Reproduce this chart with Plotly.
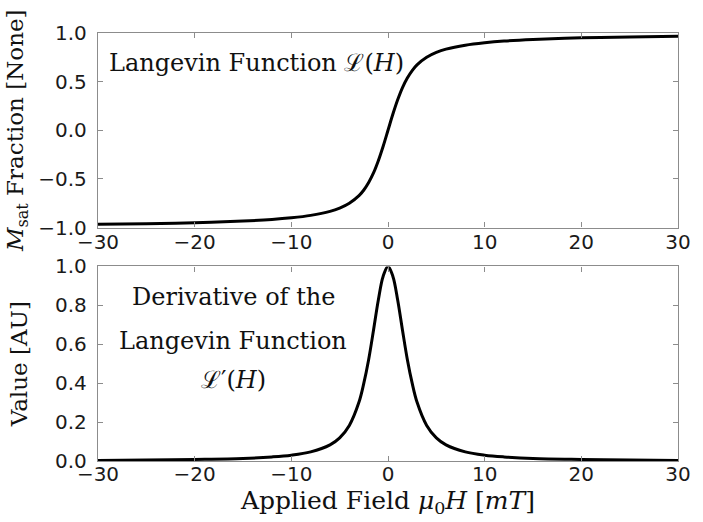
import plotly.graph_objects as go

# Applied field mu0*H [mT]
field = [-30, -25, -20, -15, -12, -10, -8, -6, -5, -4, -3, -2.5, -2, -1.5, -1, -0.5,
         0, 0.5, 1, 1.5, 2, 2.5, 3, 4, 5, 6, 8, 10, 12, 15, 20, 25, 30]

# Langevin function L(H) (saturation fraction)
langevin = [-0.967, -0.960, -0.950, -0.933, -0.917, -0.900, -0.875, -0.834, -0.800,
            -0.750, -0.672, -0.614, -0.537, -0.439, -0.313, -0.164,
            0.0, 0.164, 0.313, 0.439, 0.537, 0.614, 0.672, 0.750, 0.800, 0.834,
            0.875, 0.900, 0.917, 0.933, 0.950, 0.960, 0.967]

# Normalised derivative L'(H)
derivative = [0.003, 0.005, 0.008, 0.013, 0.021, 0.030, 0.047, 0.083, 0.119, 0.183,
              0.303, 0.400, 0.522, 0.672, 0.828, 0.950,
              1.0, 0.950, 0.828, 0.672, 0.522, 0.400, 0.303, 0.183, 0.119, 0.083,
              0.047, 0.030, 0.021, 0.013, 0.008, 0.005, 0.003]

x_ticks = [-30, -20, -10, 0, 10, 20, 30]
top_y_ticks = [-1.0, -0.5, 0.0, 0.5, 1.0]
bottom_y_ticks = [0.0, 0.2, 0.4, 0.6, 0.8, 1.0]

TICKFONT = dict(family="DejaVu Sans", size=20, color="#1a1a1a")
SERIF = "DejaVu Serif"
AXCOL = "#8c8c8c"

W, H = 703, 522
L, T, R, B = 98, 33, 13, 60

fig = go.Figure()
fig.add_trace(go.Scatter(x=field, y=langevin, mode="lines", line=dict(color="black", width=3, shape="spline", smoothing=1.0),
                         xaxis="x", yaxis="y", showlegend=False))
fig.add_trace(go.Scatter(x=field, y=derivative, mode="lines", line=dict(color="black", width=3, shape="spline", smoothing=1.0),
                         xaxis="x2", yaxis="y2", showlegend=False))

common = dict(showline=True, linecolor=AXCOL, linewidth=1.3, mirror="ticks", ticks="inside",
              ticklen=5, tickcolor=AXCOL, showgrid=False, zeroline=False, tickfont=TICKFONT,
              ticklabeloverflow="allow")

top_dom = [234 / 429, 1.0]
bot_dom = [0.0, 195 / 429]
ytitle_font = dict(family=SERIF, size=23, color="#111")
xtitle_font = dict(family=SERIF, size=25, color="#111")

fig.update_layout(
    width=W, height=H,
    margin=dict(l=L, r=R, t=T, b=B),
    paper_bgcolor="white", plot_bgcolor="white",
    xaxis=dict(domain=[0, 1], anchor="y", range=[-30, 30], tickvals=x_ticks, ticklabelstandoff=-4,
               ticktext=[str(v).replace("-", "\u2212") for v in x_ticks], **common),
    yaxis=dict(domain=top_dom, anchor="x", range=[-1.0, 1.0], tickvals=top_y_ticks, ticklabelstandoff=6,
               ticktext=[f"{v:.1f}".replace("-", "\u2212") for v in top_y_ticks],
               title=dict(text="<i>M</i><sub>sat</sub> Fraction [None]", font=ytitle_font, standoff=8),
               **common),
    xaxis2=dict(domain=[0, 1], anchor="y2", range=[-30, 30], tickvals=x_ticks, ticklabelstandoff=-5,
                ticktext=[str(v).replace("-", "\u2212") for v in x_ticks],
                title=dict(text="Applied Field <i>μ</i><sub>0</sub><i>H</i> [<i>mT</i>]", font=xtitle_font, standoff=6),
                **common),
    yaxis2=dict(domain=bot_dom, anchor="x2", range=[0.0, 1.0], tickvals=bottom_y_ticks, ticklabelstandoff=6,
                ticktext=[f"{v:.1f}" for v in bottom_y_ticks],
                title=dict(text="Value [AU]", font=ytitle_font, standoff=20),
                **common),
)

ann_font = dict(family=SERIF, size=24, color="#111")
fig.add_annotation(text="Langevin Function ℒ(<i>H</i>)", xref="paper", yref="paper",
                   x=(107 - 98) / 592, y=(462 - 63) / 429, xanchor="left", yanchor="middle", showarrow=False, font=ann_font)
for txt, yy in [("Derivative of the", 298), ("Langevin Function", 342), ("ℒ′(<i>H</i>)", 381)]:
    fig.add_annotation(text=txt, xref="paper", yref="paper", x=(236 - 98) / 592, y=(462 - yy) / 429,
                       xanchor="center", yanchor="middle", showarrow=False, font=ann_font)

page_js = """
document.documentElement.style.margin='0';
document.documentElement.style.overflow='hidden';
document.body.style.margin='0';
document.body.style.overflow='hidden';
var gd=document.getElementById('{plot_id}');
if (gd) { gd.style.overflow='hidden'; if (gd.parentElement) gd.parentElement.style.overflow='hidden'; }
document.querySelectorAll('.main-svg').forEach(function(s){ s.style.overflow='hidden'; });
"""

fig.write_html("out.html", config={"displayModeBar": False}, post_script=page_js)
